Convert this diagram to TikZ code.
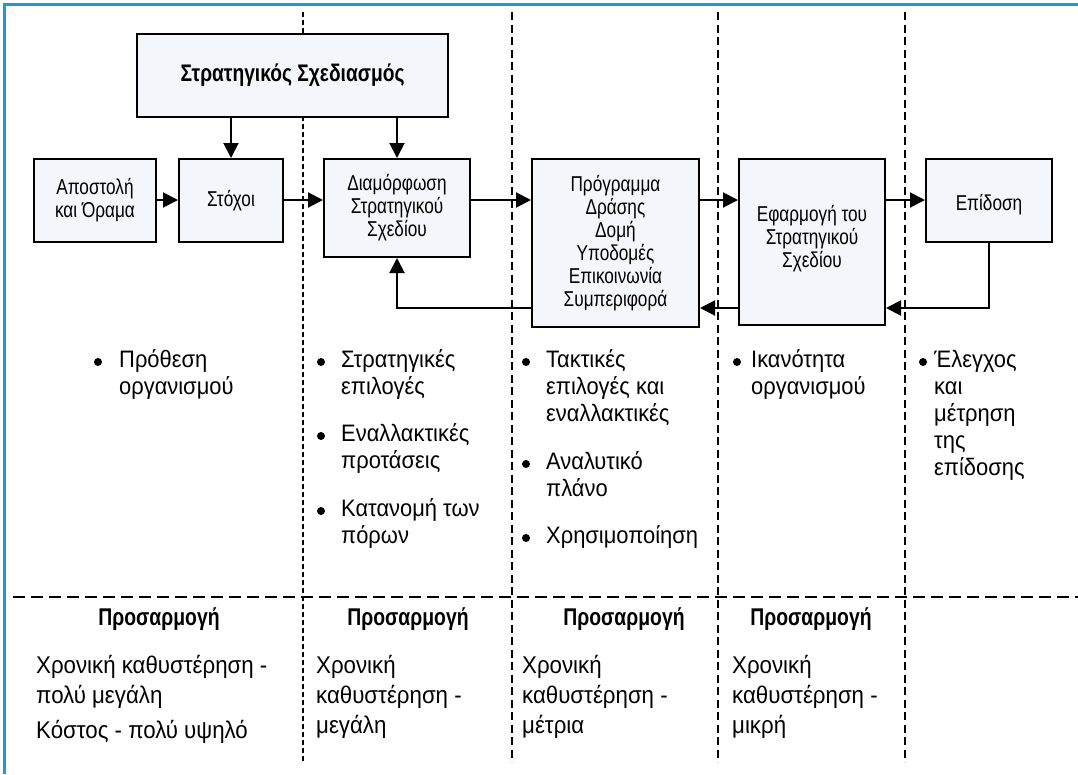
\documentclass[tikz,border=0pt]{standalone}
\usepackage{fontspec}
\setmainfont{Liberation Sans}
\newfontfamily\bodyfont[FakeStretch=0.92]{Liberation Sans}
\newfontfamily\narrowfont[FakeStretch=0.8]{Liberation Sans}
\usetikzlibrary{arrows.meta}
\definecolor{boxfill}{HTML}{F3F6FA}
\definecolor{frameblue}{HTML}{1C9AD6}
\begin{document}
\begin{tikzpicture}[x=1pt,y=-1pt,
  box/.style={draw, line width=2pt, fill=boxfill, inner sep=0pt},
  boxtext/.style={align=center, inner sep=0pt, font=\narrowfont\fontsize{21.5}{23}\selectfont},
  arr/.style={line width=2pt, -{Triangle[length=15pt,width=15pt]}},
  sepfine/.style={line width=1.6pt, dash pattern=on 5pt off 3pt},
  sep/.style={line width=2.2pt, dash pattern=on 8pt off 4.5pt},
  seph/.style={line width=2.2pt, dash pattern=on 12pt off 6pt},
  item/.style={anchor=base west, inner sep=0pt, font=\bodyfont\fontsize{23.8}{27}\selectfont},
  dot/.style={circle, fill, inner sep=0pt, minimum size=8pt},
  head/.style={anchor=base, inner sep=0pt, font=\narrowfont\bfseries\fontsize{24.2}{26}\selectfont},
  note/.style={anchor=base west, inner sep=0pt, font=\bodyfont\fontsize{24.2}{30}\selectfont}]
\useasboundingbox (0,0) rectangle (1078,774);
% frame
\draw[frameblue, line width=3pt] (4,774) -- (4,4) -- (1078,4);

% column separators
\draw[sepfine] (303,12) -- (303,762);
\draw[sep] (512,12) -- (512,762);
\draw[sep] (718,12) -- (718,762);
\draw[sep] (905,12) -- (905,762);
\draw[seph] (13,597) -- (1078,597);

% process boxes
\node[box, minimum width=311pt, minimum height=83pt] (plan) at (292.5,75.5) {};
\node[boxtext, font=\narrowfont\bfseries\fontsize{24}{26}\selectfont] (planT) at (plan) {Στρατηγικός Σχεδιασμός};
\node[box, minimum width=122pt, minimum height=83pt] (mission) at (95,200.5) {};
\node[boxtext] (missionT) at (mission) {Αποστολή\\και Όραμα};
\node[box, minimum width=104pt, minimum height=83pt] (goals) at (231,200.5) {};
\node[boxtext] (goalsT) at (goals) {Στόχοι};
\node[box, minimum width=146pt, minimum height=98pt] (form) at (397,208) {};
\node[boxtext] (formT) at (form) {Διαμόρφωση\\Στρατηγικού\\Σχεδίου};
\node[box, minimum width=167pt, minimum height=168pt] (prog) at (615.5,243) {};
\node[boxtext] (progT) at (prog) {Πρόγραμμα\\Δράσης\\Δομή\\Υποδομές\\Επικοινωνία\\Συμπεριφορά};
\node[box, minimum width=146pt, minimum height=166pt] (impl) at (812,242) {};
\node[boxtext, yshift=3pt] (implT) at (impl) {Εφαρμογή του\\Στρατηγικού\\Σχεδίου};
\node[box, minimum width=126pt, minimum height=83pt] (perf) at (989,200.5) {};
\node[boxtext, yshift=-4pt] (perfT) at (perf) {Επίδοση};

% flow and feedback levels
\coordinate (flow) at (0,200);
\coordinate (back) at (0,308);

% connectors
\draw[arr] (plan.south -| goals.north) -- (goals.north);
\draw[arr] (plan.south -| form.north) -- (form.north);
\draw[arr] (mission.east |- flow) -- (goals.west |- flow);
\draw[arr] (goals.east |- flow) -- (form.west |- flow);
\draw[arr] (form.east |- flow) -- (prog.west |- flow);
\draw[arr] (prog.east |- flow) -- (impl.west |- flow);
\draw[arr] (impl.east |- flow) -- (perf.west |- flow);
\draw[arr] (perf.south) |- (impl.east |- back);
\draw[arr] (impl.west |- back) -- (prog.east |- back);
\draw[arr] (prog.west |- back) -| (form.south);

% column 1
\node[dot] (d1a) at (98,362) {};
\node[item] (t1a) at (119,367) {Πρόθεση};
\node[item] (t1b) at (119,394) {οργανισμού};
% column 2
\node[dot] (d2a) at (321,362) {};
\node[item] (t2a) at (341,367) {Στρατηγικές};
\node[item] (t2b) at (341,394) {επιλογές};
\node[dot] (d2b) at (321,436) {};
\node[item] (t2c) at (341,441) {Εναλλακτικές};
\node[item] (t2d) at (341,468) {προτάσεις};
\node[dot] (d2c) at (321,511) {};
\node[item] (t2e) at (341,516) {Κατανομή των};
\node[item] (t2f) at (341,543) {πόρων};
% column 3
\node[dot] (d3a) at (526,362) {};
\node[item] (t3a) at (546,367) {Τακτικές};
\node[item] (t3b) at (546,394) {επιλογές και};
\node[item] (t3c) at (546,421) {εναλλακτικές};
\node[dot] (d3b) at (526,464) {};
\node[item] (t3d) at (546,469) {Αναλυτικό};
\node[item] (t3e) at (546,496) {πλάνο};
\node[dot] (d3c) at (526,538) {};
\node[item] (t3f) at (546,543) {Χρησιμοποίηση};
% column 4
\node[dot] (d4a) at (737,362) {};
\node[item] (t4a) at (751,367) {Ικανότητα};
\node[item] (t4b) at (751,394) {οργανισμού};
% column 5
\node[dot] (d5a) at (923,362) {};
\node[item] (t5a) at (934,367) {Έλεγχος};
\node[item] (t5b) at (934,394) {και};
\node[item] (t5c) at (934,421) {μέτρηση};
\node[item] (t5d) at (934,448) {της};
\node[item] (t5e) at (934,475) {επίδοσης};

% adaptation row
\node[head] (h1) at (159,625) {Προσαρμογή};
\node[head] (h2) at (408,625) {Προσαρμογή};
\node[head] (h3) at (624,625) {Προσαρμογή};
\node[head] (h4) at (811,625) {Προσαρμογή};
\node[note] (n1a) at (36,673) {Χρονική καθυστέρηση -};
\node[note] (n1b) at (36,703) {πολύ μεγάλη};
\node[note] (n1c) at (36,738) {Κόστος - πολύ υψηλό};
\node[note] (n2a) at (316,673) {Χρονική};
\node[note] (n2b) at (316,703) {καθυστέρηση -};
\node[note] (n2c) at (316,733) {μεγάλη};
\node[note] (n3a) at (522,673) {Χρονική};
\node[note] (n3b) at (522,703) {καθυστέρηση -};
\node[note] (n3c) at (522,733) {μέτρια};
\node[note] (n4a) at (732,673) {Χρονική};
\node[note] (n4b) at (732,703) {καθυστέρηση -};
\node[note] (n4c) at (732,733) {μικρή};
\end{tikzpicture}
\end{document}
